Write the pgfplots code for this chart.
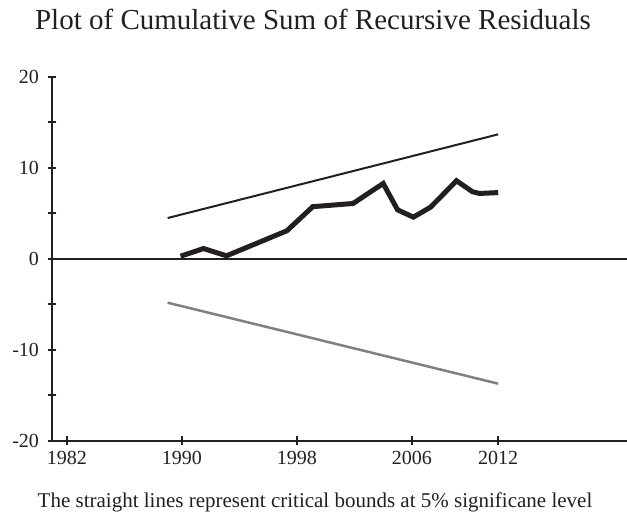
\documentclass[border=0pt]{standalone}
\usepackage{fontspec}
\setmainfont{Liberation Serif}
\usepackage{pgfplots}
\pgfplotsset{compat=1.18}
\definecolor{ink}{RGB}{35,31,32}
\definecolor{lowgray}{RGB}{128,128,128}
\begin{document}
\begin{tikzpicture}
\useasboundingbox (0pt,0pt) rectangle (627pt,516pt);
\begin{axis}[
  at={(52pt,75pt)}, anchor=south west,
  scale only axis, width=575pt, height=364pt,
  xmin=1980.96, xmax=2020.96, ymin=-20, ymax=20,
  axis x line=bottom, axis y line=left,
  axis line style={ink, line width=2pt, -},
  xtick={1982,1990,1998,2006,2012},
  ytick={-20,-10,0,10,20},
  minor ytick={-15,-5,5,15},
  tick align=center,
  major tick length=9pt, minor tick length=9pt,
  tick style={ink, line width=2pt},
  xticklabel style={font=\fontsize{20}{20}\selectfont, text=ink, yshift=-2pt},
  yticklabel style={font=\fontsize{20}{20}\selectfont, text=ink, xshift=-5pt},
  /pgf/number format/assume math mode=true,
  /pgf/number format/1000 sep={},
  clip=false,
]
\draw[ink, line width=2pt] (axis cs:1980.96,0) -- (axis cs:2020.96,0);
\addplot[ink, line width=2pt] coordinates {(1989.0,4.5) (2012,13.7)};
\addplot[lowgray, line width=2.5pt] coordinates {(1989.0,-4.8) (2012,-13.7)};
\addplot[ink, line width=5pt, line join=miter] coordinates {
(1989.9,0.3) (1991.5,1.15) (1993.1,0.35) (1997.3,3.1) (1999.1,5.75)
(2001.9,6.1) (2004.0,8.3) (2005.0,5.4) (2006.1,4.6) (2007.3,5.7)
(2009.1,8.6) (2010.2,7.4) (2010.7,7.2) (2012.0,7.3)};
\end{axis}
\node[anchor=base, font=\fontsize{29}{29}\selectfont, text=ink] at (313pt,486pt) {Plot of Cumulative Sum of Recursive Residuals};
\node[anchor=base, font=\fontsize{21}{21}\selectfont, text=ink] at (315pt,8pt) {The straight lines represent critical bounds at 5\% significane level};
\end{tikzpicture}
\end{document}
